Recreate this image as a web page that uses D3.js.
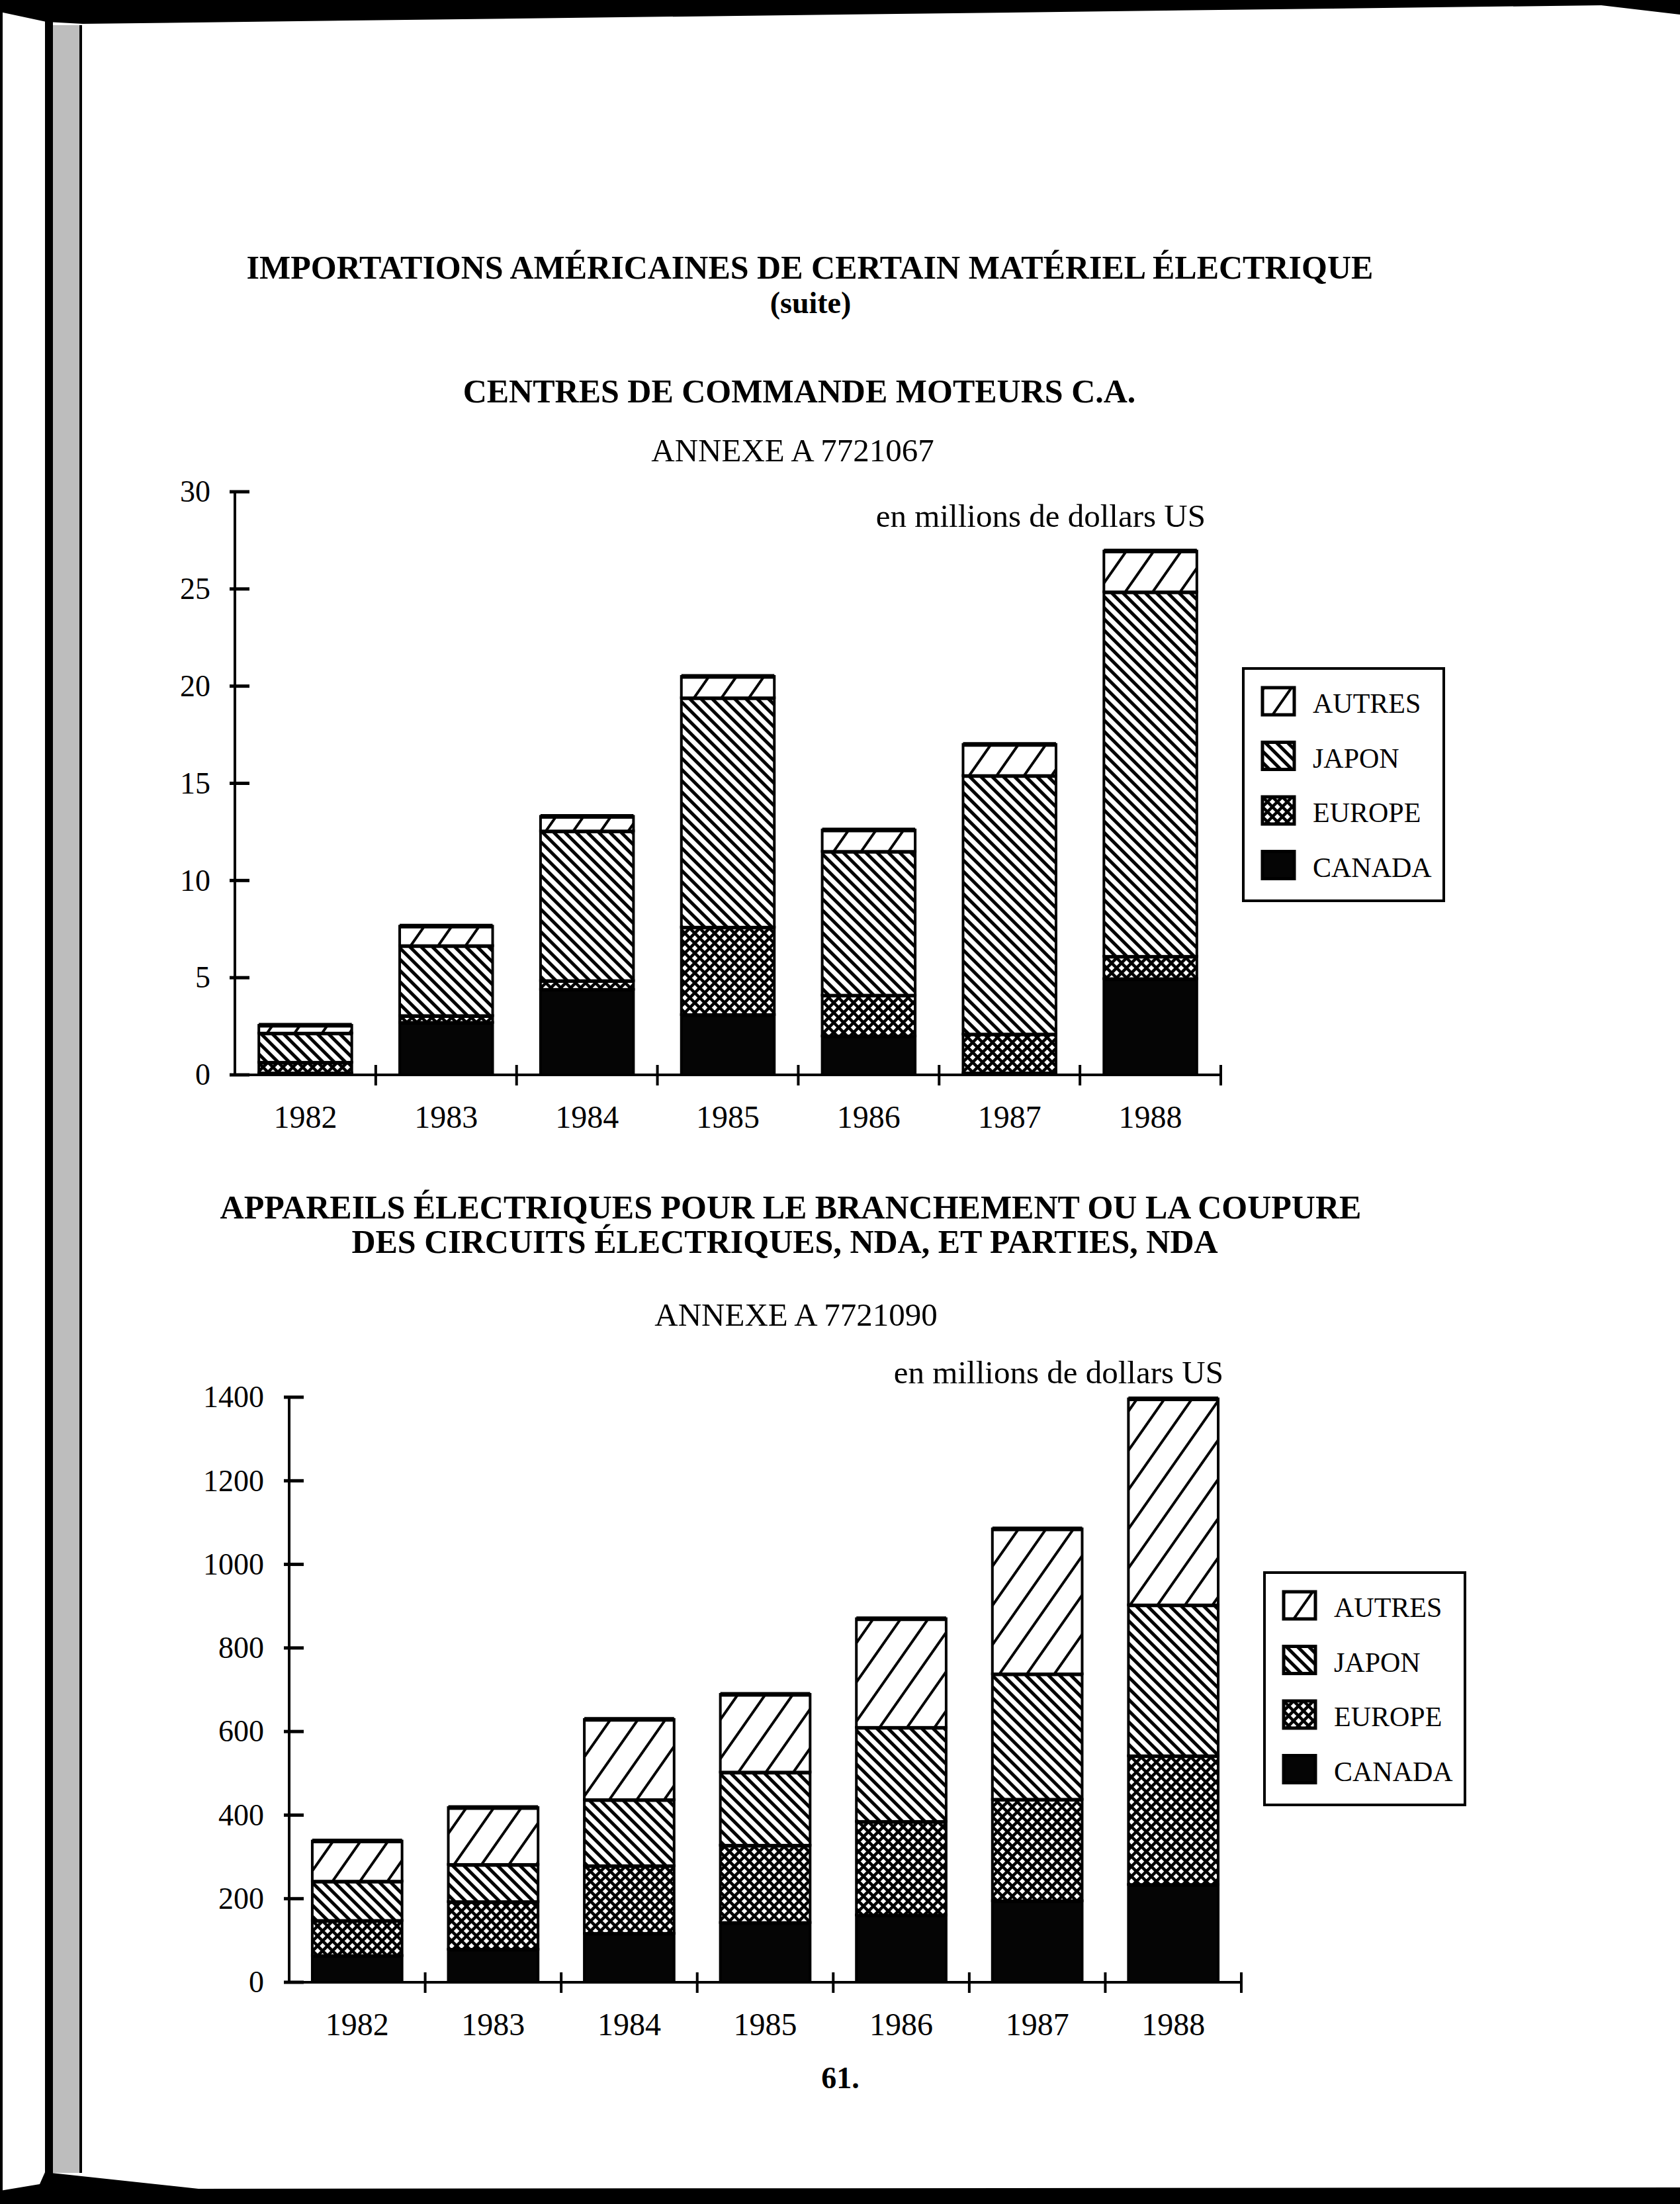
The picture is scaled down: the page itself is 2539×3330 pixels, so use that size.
<!DOCTYPE html>
<html>
<head>
<meta charset="utf-8">
<script src="https://cdn.jsdelivr.net/npm/d3@7"></script>
<style>
  body { margin: 0; background: #fff; }
  text { font-family: "Liberation Serif", "Times New Roman", serif; fill: #000; }
</style>
</head>
<body>
<svg id="SVG_CONTAINER" width="2539" height="3330"></svg>
<script>
let d3 = window.d3;

// data
const years = ["1982", "1983", "1984", "1985", "1986", "1987", "1988"];
const seriesNames = ["CANADA", "EUROPE", "JAPON", "AUTRES"];
const legendNames = ["AUTRES", "JAPON", "EUROPE", "CANADA"];

// chart 1 - annexe A 7721067 (millions $US)
const motCanada = [0.1, 2.7, 4.4, 3.1, 2.0, 0.1, 4.95];
const motEurope = [0.55, 0.35, 0.45, 4.5, 2.1, 2.0, 1.15];
const motJapon = [1.5, 3.6, 7.7, 11.8, 7.4, 13.3, 18.75];
const motAutres = [0.4, 1.0, 0.75, 1.1, 1.1, 1.6, 2.1];
const motTicks = [0, 5, 10, 15, 20, 25, 30];

// chart 2 - annexe A 7721090 (millions $US)
const appCanada = [64, 79, 117, 143, 161, 195, 234];
const appEurope = [84, 114, 162, 185, 224, 243, 308];
const appJapon = [94, 89, 158, 175, 225, 300, 361];
const appAutres = [96, 136, 192, 186, 260, 347, 493];
const appTicks = [0, 200, 400, 600, 800, 1000, 1200, 1400];

const svg = d3.select("#SVG_CONTAINER");

// hatch patterns like the old printout
const defs = svg.append("defs");

const hatch = (id, size, angle, lineW) => {
  const p = defs
    .append("pattern")
    .attr("id", id)
    .attr("patternUnits", "userSpaceOnUse")
    .attr("width", size)
    .attr("height", size)
    .attr("patternTransform", `rotate(${angle})`);
  p.append("rect").attr("width", size).attr("height", size).attr("fill", "#fff");
  p.append("rect").attr("x", 0).attr("y", 0).attr("width", lineW).attr("height", size).attr("fill", "#000");
};
hatch("pat-autres", 34, 35, 4);
hatch("pat-japon", 12, -45, 5);

const cross = defs
  .append("pattern")
  .attr("id", "pat-europe")
  .attr("patternUnits", "userSpaceOnUse")
  .attr("width", 15)
  .attr("height", 15);
cross.append("rect").attr("width", 15).attr("height", 15).attr("fill", "#fff");
cross
  .append("path")
  .attr("d", "M0,0L15,15M15,0L0,15M-2,13L2,17M13,-2L17,2M-2,2L2,-2M13,17L17,13")
  .attr("stroke", "#000")
  .attr("stroke-width", 4.5);

const fills = {
  CANADA: "#050505",
  EUROPE: "url(#pat-europe)",
  JAPON: "url(#pat-japon)",
  AUTRES: "url(#pat-autres)",
};

// page edges of the scan
svg.append("rect").attr("x", 0).attr("y", 0).attr("width", 4).attr("height", 3330).attr("fill", "#000");
svg.append("rect").attr("x", 68).attr("y", 20).attr("width", 12).attr("height", 3265).attr("fill", "#000");
svg.append("rect").attr("x", 80).attr("y", 38).attr("width", 42).attr("height", 3245).attr("fill", "#bdbdbd");
svg.append("rect").attr("x", 120).attr("y", 38).attr("width", 4).attr("height", 3245).attr("fill", "#000");
svg
  .append("path")
  .attr("d", "M0,0L2539,0L2539,22L2420,8L125,36L70,33L0,18Z")
  .attr("fill", "#000");
svg
  .append("path")
  .attr("d", "M0,3330L0,3310L60,3300L68,3282L300,3307L2539,3305L2539,3330Z")
  .attr("fill", "#000");

const text = (x, y, str, size, weight, anchor) =>
  svg
    .append("text")
    .attr("x", x)
    .attr("y", y)
    .attr("font-size", size)
    .attr("font-weight", weight || "normal")
    .attr("text-anchor", anchor || "middle")
    .text(str);

// stacked bar chart
const stackedBars = (selection, props) => {
  const { left, right, top, bottom, data, ticks, maxValue, labelX, yearY, unitX, unitY, legendX, legendY } = props;

  const x = d3.scaleBand().domain(years).range([left, right]).paddingInner(0.34).paddingOuter(0.17);
  const xb = d3.scaleBand().domain(years).range([left, right]);
  const y = d3.scaleLinear().domain([0, maxValue]).range([bottom, top]);

  const rows = years.map((yr, i) => {
    const r = { year: yr };
    seriesNames.forEach((k) => (r[k] = data[k][i]));
    return r;
  });
  const stacked = d3.stack().keys(seriesNames)(rows);

  const g = selection.append("g");

  const layer = g
    .selectAll(".layer")
    .data(stacked)
    .enter()
    .append("g")
    .attr("class", "layer")
    .attr("fill", (d) => fills[d.key]);

  layer
    .selectAll("rect")
    .data((d) => d)
    .enter()
    .append("rect")
    .attr("x", (d) => x(d.data.year))
    .attr("y", (d) => y(d[1]))
    .attr("width", x.bandwidth())
    .attr("height", (d) => y(d[0]) - y(d[1]))
    .attr("stroke", "#000")
    .attr("stroke-width", 4);

  // heavy lines at each segment top
  layer
    .selectAll("line")
    .data((d) => d)
    .enter()
    .append("line")
    .attr("x1", (d) => x(d.data.year))
    .attr("x2", (d) => x(d.data.year) + x.bandwidth())
    .attr("y1", (d) => y(d[1]))
    .attr("y2", (d) => y(d[1]))
    .attr("stroke", "#000")
    .attr("stroke-width", 7);

  // y axis
  const yAxis = d3
    .axisLeft(y)
    .tickValues(ticks)
    .tickFormat(d3.format("d"))
    .tickSize(0)
    .tickPadding(left - labelX);
  const yAxisG = g.append("g").attr("transform", `translate(${left},0)`).call(yAxis);
  yAxisG.select(".domain").remove();
  yAxisG
    .selectAll("text")
    .attr("font-size", 46)
    .attr("fill", "#000")
    .attr("font-family", '"Liberation Serif", "Times New Roman", serif');

  g.append("line")
    .attr("x1", left)
    .attr("x2", left)
    .attr("y1", top - 2)
    .attr("y2", bottom + 2)
    .attr("stroke", "#000")
    .attr("stroke-width", 4);

  g.selectAll(".ytick")
    .data(ticks)
    .enter()
    .append("line")
    .attr("x1", left - 8)
    .attr("x2", left + 22)
    .attr("y1", (d) => y(d))
    .attr("y2", (d) => y(d))
    .attr("stroke", "#000")
    .attr("stroke-width", 5);

  // x axis
  g.append("line")
    .attr("x1", left)
    .attr("x2", right)
    .attr("y1", bottom)
    .attr("y2", bottom)
    .attr("stroke", "#000")
    .attr("stroke-width", 4);

  g.selectAll(".xtick")
    .data(years)
    .enter()
    .append("line")
    .attr("x1", (d) => xb(d) + xb.bandwidth())
    .attr("x2", (d) => xb(d) + xb.bandwidth())
    .attr("y1", bottom - 15)
    .attr("y2", bottom + 16)
    .attr("stroke", "#000")
    .attr("stroke-width", 4);

  g.selectAll(".year")
    .data(years)
    .enter()
    .append("text")
    .attr("x", (d) => xb(d) + xb.bandwidth() / 2)
    .attr("y", yearY)
    .attr("text-anchor", "middle")
    .attr("font-size", 48)
    .text((d) => d);

  text(unitX, unitY, "en millions de dollars US", 49, "normal", "end");

  // legend
  const lg = g.append("g").attr("transform", `translate(${legendX},${legendY})`);
  lg.append("rect")
    .attr("width", 303)
    .attr("height", 351)
    .attr("fill", "#fff")
    .attr("stroke", "#000")
    .attr("stroke-width", 4);

  const item = lg
    .selectAll(".item")
    .data(legendNames)
    .enter()
    .append("g")
    .attr("transform", (d, i) => `translate(29,${29 + i * 82.5})`);
  item
    .append("rect")
    .attr("width", 48)
    .attr("height", 41)
    .attr("fill", (d) => fills[d])
    .attr("stroke", "#000")
    .attr("stroke-width", 5);
  item
    .append("text")
    .attr("x", 76)
    .attr("y", 38)
    .attr("font-size", 42)
    .text((d) => d);
};

// titles
text(1224, 421, "IMPORTATIONS AMÉRICAINES DE CERTAIN MATÉRIEL ÉLECTRIQUE", 50, "bold");
text(1225, 473, "(suite)", 46, "bold");
text(1208, 608, "CENTRES DE COMMANDE MOTEURS C.A.", 50, "bold");
text(1198, 697, "ANNEXE A 7721067", 49);

svg.call(stackedBars, {
  left: 355,
  right: 1845,
  top: 743,
  bottom: 1624,
  maxValue: 30,
  ticks: motTicks,
  labelX: 318,
  yearY: 1704,
  unitX: 1822,
  unitY: 796,
  legendX: 1879,
  legendY: 1010,
  data: { CANADA: motCanada, EUROPE: motEurope, JAPON: motJapon, AUTRES: motAutres },
});

text(1195, 1841, "APPAREILS ÉLECTRIQUES POUR LE BRANCHEMENT OU LA COUPURE", 50, "bold");
text(1186, 1893, "DES CIRCUITS ÉLECTRIQUES, NDA, ET PARTIES, NDA", 50, "bold");
text(1203, 2003, "ANNEXE A 7721090", 49);

svg.call(stackedBars, {
  left: 437,
  right: 1876,
  top: 2111,
  bottom: 2995,
  maxValue: 1400,
  ticks: appTicks,
  labelX: 399,
  yearY: 3075,
  unitX: 1849,
  unitY: 2090,
  legendX: 1911,
  legendY: 2376,
  data: { CANADA: appCanada, EUROPE: appEurope, JAPON: appJapon, AUTRES: appAutres },
});

text(1270, 3155, "61.", 46, "bold");
</script>
</body>
</html>
